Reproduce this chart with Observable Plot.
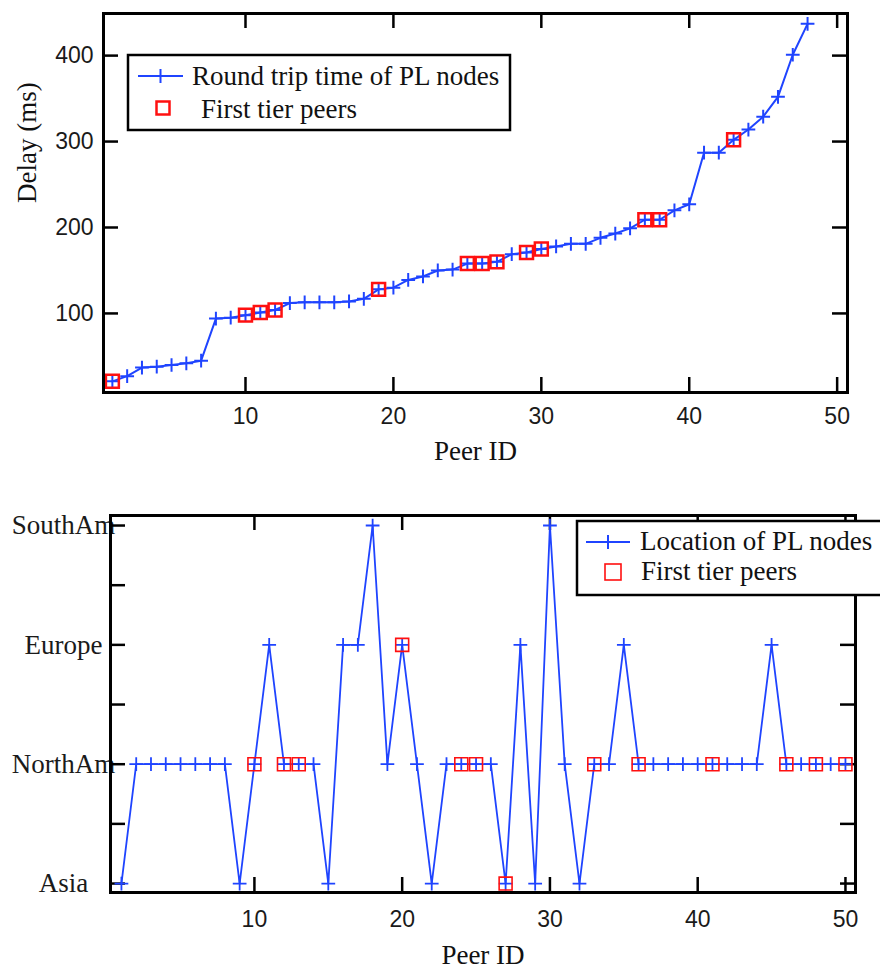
<!DOCTYPE html>
<html><head><meta charset="utf-8">
<script src="https://cdn.jsdelivr.net/npm/d3@7"></script>
<script src="https://cdn.jsdelivr.net/npm/@observablehq/plot@0.6"></script>
<style>
html,body{margin:0;padding:0;background:#fff;}
#wrap{position:relative;width:880px;height:974px;overflow:hidden;background:#fff;}
#wrap svg{display:block;}
</style></head><body><div id="wrap"></div>
<script>
// ---------- data: top chart ----------
const peerIdsTop = [1,2,3,4,5,6,7,8,9,10,11,12,13,14,15,16,17,18,19,20,21,22,23,24,25,26,27,28,29,30,31,32,33,34,35,36,37,38,39,40,41,42,43,44,45,46,47,48];
const delays = [21,27,37,38,40,42,45,94,95,98,101,104,112,113,113,113,114,117,128,130,139,143,150,151,158,158,160,169,171,175,178,181,181,188,193,199,209,209,220,227,287,287,302,314,329,352,401,437];
const firstTierTop = [1,10,11,12,19,25,26,27,29,30,37,38,43];
const xTicks = [10,20,30,40,50];
const yTicksTop = [100,200,300,400];

// ---------- data: bottom chart ----------
const regions = ["Asia","NorthAm","Europe","SouthAm"];
const peerIdsBottom = [1,2,3,4,5,6,7,8,9,10,11,12,13,14,15,16,17,18,19,20,21,22,23,24,25,26,27,28,29,30,31,32,33,34,35,36,37,38,39,40,41,42,43,44,45,46,47,48,49,50];
const locations = ["Asia","NorthAm","NorthAm","NorthAm","NorthAm","NorthAm","NorthAm","NorthAm","Asia","NorthAm",
  "Europe","NorthAm","NorthAm","NorthAm","Asia","Europe","Europe","SouthAm","NorthAm","Europe",
  "NorthAm","Asia","NorthAm","NorthAm","NorthAm","NorthAm","Asia","Europe","Asia","SouthAm",
  "NorthAm","Asia","NorthAm","NorthAm","Europe","NorthAm","NorthAm","NorthAm","NorthAm","NorthAm",
  "NorthAm","NorthAm","NorthAm","NorthAm","Europe","NorthAm","NorthAm","NorthAm","NorthAm","NorthAm"];
const firstTierBottom = [10,12,13,20,24,25,27,33,36,41,46,48,50];
const yTicksBottom = [1,1.5,2,2.5,3,3.5,4];
const yLabelTicksBottom = [1,2,3,4];

const BLUE = "#1f44ff", RED = "#ff1010";
const SERIF = "Liberation Serif, Times New Roman, serif";
const SANS = "Liberation Sans, Arial, sans-serif";

const topData = peerIdsTop.map((id, i) => ({id, delay: delays[i]}));
const topFirst = topData.filter(d => firstTierTop.includes(d.id));
const botData = peerIdsBottom.map((id, i) => ({id, loc: locations[i], lv: regions.indexOf(locations[i]) + 1}));
const botFirst = botData.filter(d => firstTierBottom.includes(d.id));

function legend(svg, o) {
  const g = d3.select(svg).append("g").attr("text-anchor", "start");
  g.append("rect").attr("x", o.x).attr("y", o.y).attr("width", o.w).attr("height", o.h)
    .attr("fill", "#fff").attr("stroke", "#000").attr("stroke-width", 2.5);
  g.append("line").attr("x1", o.lx1).attr("x2", o.lx2).attr("y1", o.ly).attr("y2", o.ly)
    .attr("stroke", BLUE).attr("stroke-width", 2.2);
  const cx = (o.lx1 + o.lx2) / 2;
  g.append("line").attr("x1", cx).attr("x2", cx).attr("y1", o.ly - 7).attr("y2", o.ly + 7)
    .attr("stroke", BLUE).attr("stroke-width", 2);
  g.append("rect").attr("x", o.sx - o.ss / 2).attr("y", o.sy - o.ss / 2).attr("width", o.ss).attr("height", o.ss)
    .attr("fill", "none").attr("stroke", RED).attr("stroke-width", o.sw);
  g.append("text").attr("x", o.t1x).attr("y", o.t1y).text(o.text1).attr("text-anchor", "start")
    .attr("font-family", SERIF).attr("font-size", 27).attr("fill", "#111");
  g.append("text").attr("x", o.t2x).attr("y", o.t2y).text(o.text2).attr("text-anchor", "start")
    .attr("font-family", SERIF).attr("font-size", 27).attr("fill", "#111");
}

// ---------- top chart ----------
{
  const width = 880, height = 490, mt = 13, mb = 98, ml = 103, mr = 33;
  const W = width - ml - mr, H = height - mt - mb, T = 15;
  const svg = Plot.plot({
    width, height, marginTop: mt, marginBottom: mb, marginLeft: ml, marginRight: mr,
    x: {domain: [0.4, 50.7]},
    y: {domain: [8, 449]},
    style: {fontFamily: SANS, fontSize: "23px", color: "#1a1a1a", background: "#fff"},
    marks: [
      Plot.axisX(xTicks, {tickSize: 0, tickPadding: 15, label: null, fontSize: 23}),
      Plot.axisY(yTicksTop, {tickSize: 0, tickPadding: 10, label: null, fontSize: 23}),
      Plot.tickX(xTicks, {x: d => d, insetTop: H - T, stroke: "#000", strokeWidth: 2.5}),
      Plot.tickX(xTicks, {x: d => d, insetBottom: H - T, stroke: "#000", strokeWidth: 2.5}),
      Plot.tickY(yTicksTop, {y: d => d, insetRight: W - T, stroke: "#000", strokeWidth: 2.5}),
      Plot.tickY(yTicksTop, {y: d => d, insetLeft: W - T, stroke: "#000", strokeWidth: 2.5}),
      Plot.line(topData, {x: "id", y: "delay", stroke: BLUE, strokeWidth: 2}),
      Plot.dot(topData, {x: "id", y: "delay", symbol: "plus", r: 4.5, fill: "none", stroke: BLUE, strokeWidth: 2}),
      Plot.dot(topFirst, {x: "id", y: "delay", symbol: "square", r: 7.3, fill: "none", stroke: RED, strokeWidth: 2.5}),
      Plot.frame({stroke: "#000", strokeWidth: 3}),
      Plot.text(["Peer ID"], {frameAnchor: "bottom", dy: 67, fontFamily: SERIF, fontSize: 27, fill: "#111"}),
      Plot.text(["Delay (ms)"], {frameAnchor: "left", dx: -76, rotate: -90, fontFamily: SERIF, fontSize: 27, fill: "#111"})
    ]
  });
  legend(svg, {x: 128, y: 55, w: 382, h: 75, lx1: 138, lx2: 183, ly: 76,
    text1: "Round trip time of PL nodes", t1x: 192, t1y: 85,
    sx: 163, sy: 108, ss: 13, sw: 2.5, text2: "First tier peers", t2x: 201, t2y: 118});
  document.getElementById("wrap").appendChild(svg);
}

// ---------- bottom chart ----------
{
  const width = 880, height = 484, mt = 25, mb = 82, ml = 110, mr = 25;
  const W = width - ml - mr, H = height - mt - mb, T = 15;
  const svg = Plot.plot({
    width, height, marginTop: mt, marginBottom: mb, marginLeft: ml, marginRight: mr,
    x: {domain: [0.26, 50.68]},
    y: {domain: [0.925, 4.084]},
    style: {fontFamily: SANS, fontSize: "23px", color: "#1a1a1a", background: "#fff"},
    marks: [
      Plot.axisX(xTicks, {tickSize: 0, tickPadding: 18, label: null, fontSize: 23}),
      Plot.axisY(yLabelTicksBottom, {tickSize: 0, tickPadding: 47, textAnchor: "middle", label: null,
        tickFormat: d => regions[d - 1], fontFamily: SERIF, fontSize: 27}),
      Plot.tickX(xTicks, {x: d => d, insetTop: H - T, stroke: "#000", strokeWidth: 2.5}),
      Plot.tickX(xTicks, {x: d => d, insetBottom: H - T, stroke: "#000", strokeWidth: 2.5}),
      Plot.tickY(yTicksBottom, {y: d => d, insetRight: W - T, stroke: "#000", strokeWidth: 2.5}),
      Plot.tickY(yTicksBottom, {y: d => d, insetLeft: W - T, stroke: "#000", strokeWidth: 2.5}),
      Plot.line(botData, {x: "id", y: "lv", stroke: BLUE, strokeWidth: 1.8}),
      Plot.dot(botData, {x: "id", y: "lv", symbol: "plus", r: 4.5, fill: "none", stroke: BLUE, strokeWidth: 1.8}),
      Plot.dot(botFirst, {x: "id", y: "lv", symbol: "square", r: 7.3, fill: "none", stroke: RED, strokeWidth: 1.6}),
      Plot.frame({stroke: "#000", strokeWidth: 3}),
      Plot.text(["Peer ID"], {frameAnchor: "bottom", dy: 71, fontFamily: SERIF, fontSize: 27, fill: "#111"})
    ]
  });
  legend(svg, {x: 577, y: 31, w: 330, h: 74, lx1: 586, lx2: 630, ly: 52,
    text1: "Location of PL nodes", t1x: 640, t1y: 60,
    sx: 613, sy: 82, ss: 16, sw: 1.6, text2: "First tier peers", t2x: 641, t2y: 90});
  document.getElementById("wrap").appendChild(svg);
}
</script>
</body></html>
